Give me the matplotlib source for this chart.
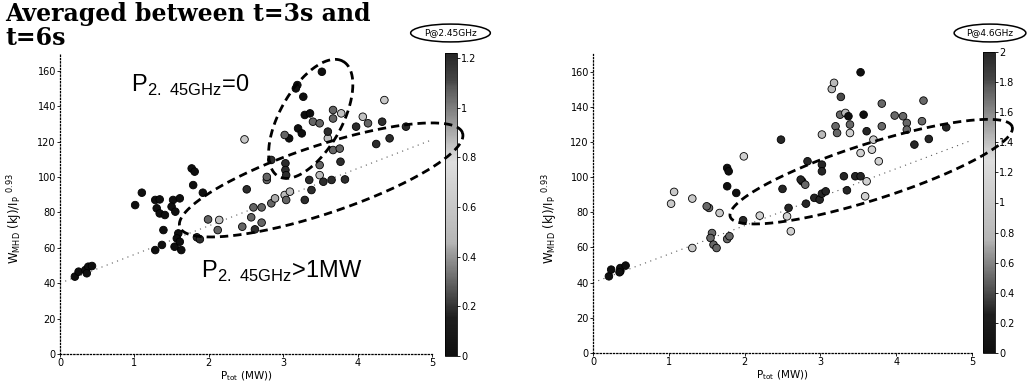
import numpy as np
import matplotlib
matplotlib.use('Agg')
import matplotlib.pyplot as plt
from matplotlib.colors import ListedColormap, Normalize

# Data
# left panel: colour = P@2.45GHz (MW)
left_x = [0.20, 0.25, 0.34, 0.38, 0.43, 0.36,
          1.01, 1.10, 1.28, 1.34, 1.30, 1.34, 1.41, 1.39, 1.37, 1.28,
          1.52, 1.50, 1.55, 1.61, 1.77, 1.81, 1.79, 1.92, 1.59, 1.57,
          1.54, 1.63, 1.61, 1.84, 1.88,
          2.51, 2.62, 2.45, 2.57, 2.71, 2.60, 2.71, 2.84, 2.89, 3.02,
          3.09, 3.04, 3.29, 3.38, 3.35, 3.49, 3.54, 3.65, 3.83, 3.77,
          3.49, 3.67, 3.76, 3.60, 2.78, 2.78, 3.03, 3.03, 3.04, 2.84,
          1.99, 2.14, 2.12, 2.48, 3.08, 3.02, 3.20, 3.25, 3.19, 3.17,
          3.27, 3.52, 3.29, 3.36, 3.40, 3.67, 3.67, 3.60, 3.78, 3.98,
          4.14, 4.33, 4.07, 4.36, 4.65, 4.25, 4.43, 3.49]
left_y = [43.7, 46.5, 47.4, 49.3, 49.7, 45.6,
          84.1, 91.1, 87.0, 87.3, 82.3, 79.4, 78.5, 70.0, 61.6, 58.7,
          87.0, 83.2, 80.4, 87.9, 104.8, 103.0, 95.4, 91.1, 68.1, 65.3,
          60.6, 58.7, 63.4, 65.9, 64.8,
          93.0, 70.4, 71.9, 77.2, 74.2, 82.8, 82.8, 85.1, 87.9, 89.8,
          91.7, 87.0, 87.0, 92.6, 98.3, 101.0, 97.3, 98.3, 98.6, 108.6,
          106.7, 115.2, 116.0, 121.8, 98.3, 100.0, 107.7, 103.9, 101.0, 109.6,
          76.0, 75.7, 70.0, 121.2, 121.8, 123.7, 127.4, 124.6, 151.9, 150.0,
          145.3, 159.4, 135.0, 135.9, 131.2, 137.8, 133.0, 125.6, 135.9, 128.4,
          130.3, 131.2, 134.0, 143.4, 128.4, 118.6, 121.8, 130.3]
left_c = [0.0, 0.0, 0.0, 0.0, 0.0, 0.0,
          0.0, 0.0, 0.0, 0.0, 0.0, 0.0, 0.0, 0.0, 0.0, 0.0,
          0.0, 0.0, 0.0, 0.0, 0.0, 0.0, 0.0, 0.0, 0.0, 0.0,
          0.0, 0.0, 0.0, 1.2, 1.2,
          1.2, 1.2, 0.3, 0.3, 0.3, 0.3, 0.3, 0.3, 0.9, 0.5,
          0.5, 0.3, 1.2, 1.2, 1.2, 0.5, 1.2, 1.2, 1.2, 1.2,
          0.3, 0.3, 0.3, 0.55, 0.3, 0.3, 1.2, 1.2, 1.2, 1.2,
          0.3, 0.55, 0.3, 0.6, 0.0, 0.3, 0.0, 0.0, 0.0, 0.0,
          0.0, 0.0, 0.0, 0.0, 0.3, 0.3, 0.3, 1.2, 0.55, 1.2,
          0.3, 1.2, 0.55, 0.6, 1.2, 1.2, 1.2, 0.3]

# right panel: colour = P@4.6GHz (MW)
right_x = [0.21, 0.24, 0.36, 0.36, 0.43, 0.35,
           1.03, 1.07, 1.31, 1.53, 1.50, 1.67, 1.57, 1.55, 1.59, 1.63,
           1.77, 1.80, 1.31, 1.77, 1.79, 1.77, 1.89, 1.98, 1.99, 2.20,
           2.48, 2.50, 2.58, 2.61, 2.56, 2.81, 2.83, 2.76, 2.74, 2.80,
           2.92, 2.99, 3.02, 3.07, 3.02, 3.02, 3.31, 3.35, 3.46, 3.53,
           3.61, 3.53, 3.27, 3.15, 3.18, 3.20, 3.22, 3.02, 3.26, 3.33,
           3.37, 3.39, 3.57, 3.81, 3.98, 4.09, 4.14, 4.14, 4.34, 4.36,
           4.24, 4.43, 4.66, 3.81, 3.70, 3.77, 3.53, 3.61, 3.59, 3.68, 3.39]
right_y = [43.6, 47.4, 46.4, 48.3, 49.7, 45.9,
           84.9, 91.6, 87.8, 82.5, 83.4, 79.6, 68.2, 65.4, 61.6, 59.7,
           64.8, 66.4, 59.7, 105.2, 103.3, 94.8, 91.0, 75.5, 111.8, 78.1,
           121.3, 93.3, 82.5, 69.2, 77.7, 84.9, 109.0, 97.6, 98.6, 95.7,
           88.2, 87.2, 90.6, 91.9, 107.1, 103.3, 100.5, 92.5, 100.5, 100.5,
           126.1, 159.6, 145.6, 150.1, 153.6, 128.9, 125.1, 124.2, 135.5, 136.5,
           134.6, 129.9, 135.5, 141.8, 135.0, 134.6, 130.8, 127.0, 131.8, 143.5,
           118.5, 121.7, 128.3, 128.9, 121.3, 109.0, 113.7, 97.6, 89.1, 115.6, 125.1]
right_c = [0.0, 0.0, 0.0, 0.0, 0.0, 0.0,
           1.0, 1.0, 1.0, 0.5, 0.5, 1.0, 0.5, 0.5, 0.5, 0.5,
           0.5, 0.5, 1.0, 0.0, 0.0, 0.0, 0.0, 2.0, 1.1, 1.1,
           2.0, 2.0, 2.0, 1.1, 1.1, 2.0, 2.0, 2.0, 2.0, 0.5,
           2.0, 2.0, 2.0, 2.0, 2.0, 2.0, 2.0, 2.0, 2.0, 2.0,
           2.0, 0.0, 0.4, 0.8, 0.8, 0.5, 0.5, 0.8, 0.5, 0.8,
           0.0, 0.5, 0.0, 0.5, 0.5, 0.5, 0.5, 0.5, 0.5, 0.5,
           2.0, 2.0, 2.0, 0.5, 1.0, 1.1, 1.1, 1.1, 1.1, 1.1, 1.1]

# dotted scaling line
fit_x = [0.0, 5.0]
fit_y = [40.0, 121.0]

# grey version of jet (the scan is black & white)
jet = plt.get_cmap('jet')(np.linspace(0, 1, 256))
luma = 0.299 * jet[:, 0] + 0.587 * jet[:, 1] + 0.114 * jet[:, 2]
grey_jet = ListedColormap(np.column_stack([luma, luma, luma, np.ones_like(luma)]))

W, H = 1033, 383
fig = plt.figure(figsize=(W / 100, H / 100), dpi=100)


def px_axes(x0, x1, ytop, ybot):
    return fig.add_axes([x0 / W, (H - ybot) / H, (x1 - x0) / W, (ybot - ytop) / H])


def style_axes(ax):
    ax.set_xlim(0, 5)
    ax.set_ylim(0, 170)
    ax.set_xticks([0, 1, 2, 3, 4, 5])
    ax.set_yticks(range(0, 161, 20))
    for s in ['top', 'right']:
        ax.spines[s].set_visible(False)
    for s in ['left', 'bottom']:
        ax.spines[s].set_linestyle(':')
        ax.spines[s].set_linewidth(0.9)
    ax.tick_params(labelsize=7, length=2, width=0.6, pad=1)
    ax.set_xlabel(r'P$_{\mathregular{tot}}$ (MW))', fontsize=7.5, va='top')
    ax.xaxis.set_label_coords(0.5, -0.05)
    ax.set_ylabel(r'W$_{\mathregular{MHD}}$ (kJ)/I$_{\mathregular{P}}$ $^{\mathregular{0.93}}$', fontsize=8.5)


def dashed_ellipse(ax, cx, cy, a, b, ang):
    # centre in data units, semi axes in pixels, angle in degrees (screen)
    c = ax.transData.transform((cx, cy))
    t = np.linspace(0, 2 * np.pi, 300)
    r = np.deg2rad(ang)
    px = c[0] + a * np.cos(t) * np.cos(r) - b * np.sin(t) * np.sin(r)
    py = c[1] + a * np.cos(t) * np.sin(r) + b * np.sin(t) * np.cos(r)
    d = ax.transData.inverted().transform(np.column_stack([px, py]))
    ax.plot(d[:, 0], d[:, 1], color='k', lw=2.0, ls=(0, (3, 1.8)), clip_on=False, zorder=5)


# ---- left panel
ax1 = px_axes(60, 432, 53, 354)
style_axes(ax1)
ax1.yaxis.set_label_coords(-0.095, 0.45)
norm1 = Normalize(0, 1.22)
ax1.plot(fit_x, fit_y, color='0.35', ls=(0, (1, 4)), lw=0.8, zorder=1)
sc1 = ax1.scatter(left_x, left_y, c=left_c, cmap=grey_jet, norm=norm1, s=30,
                  edgecolors='k', linewidths=0.6, zorder=3, clip_on=False)
dashed_ellipse(ax1, 3.37, 132.8, 66, 31, 60.7)
dashed_ellipse(ax1, 3.51, 98.3, 149, 34, 18.4)
ax1.text(0.95, 148, r'P$_{\mathregular{2.\ 45GHz}}$=0', fontsize=17, family='Liberation Sans')
ax1.text(1.9, 43, r'P$_{\mathregular{2.\ 45GHz}}$>1MW', fontsize=17, family='Liberation Sans')

cax1 = px_axes(445, 457, 53, 356)
cb1 = fig.colorbar(sc1, cax=cax1)
cb1.set_ticks([0, 0.2, 0.4, 0.6, 0.8, 1, 1.2])
cb1.set_ticklabels(['0', '0.2', '0.4', '0.6', '0.8', '1', '1.2'])
cb1.ax.tick_params(labelsize=7, length=2, width=0.6, pad=1)
cb1.outline.set_linewidth(0.6)
fig.text(450.5 / W, (H - 33) / H, 'P@2.45GHz', fontsize=6.5, ha='center', va='center',
         bbox=dict(boxstyle='ellipse,pad=0.2', fc='white', ec='k', lw=1.1))

# ---- right panel
ax2 = px_axes(593, 972, 54, 353)
style_axes(ax2)
ax2.yaxis.set_label_coords(-0.087, 0.45)
norm2 = Normalize(0, 2)
ax2.plot(fit_x, fit_y, color='0.35', ls=(0, (1, 4)), lw=0.8, zorder=1)
sc2 = ax2.scatter(right_x, right_y, c=right_c, cmap=grey_jet, norm=norm2, s=30,
                  edgecolors='k', linewidths=0.6, zorder=3, clip_on=False)
dashed_ellipse(ax2, 3.67, 103.1, 148, 28, 17.7)

cax2 = px_axes(983, 995, 52, 353)
cb2 = fig.colorbar(sc2, cax=cax2)
cb2.set_ticks(np.arange(0, 2.01, 0.2))
cb2.set_ticklabels(['0', '0.2', '0.4', '0.6', '0.8', '1', '1.2', '1.4', '1.6', '1.8', '2'])
cb2.ax.tick_params(labelsize=7, length=2, width=0.6, pad=1)
cb2.outline.set_linewidth(0.6)
fig.text(990 / W, (H - 33) / H, 'P@4.6GHz', fontsize=6.5, ha='center', va='center',
         bbox=dict(boxstyle='ellipse,pad=0.2', fc='white', ec='k', lw=1.1))

for a in (ax1, ax2):
    a.set_zorder(3)
    a.patch.set_alpha(0)

fig.text(5 / W, 1 - 2 / H, 'Averaged between t=3s and\nt=6s', fontsize=17,
         fontweight='bold', family='DejaVu Serif', va='top', ha='left', linespacing=1.0)

fig.savefig('out.png', dpi=100)
